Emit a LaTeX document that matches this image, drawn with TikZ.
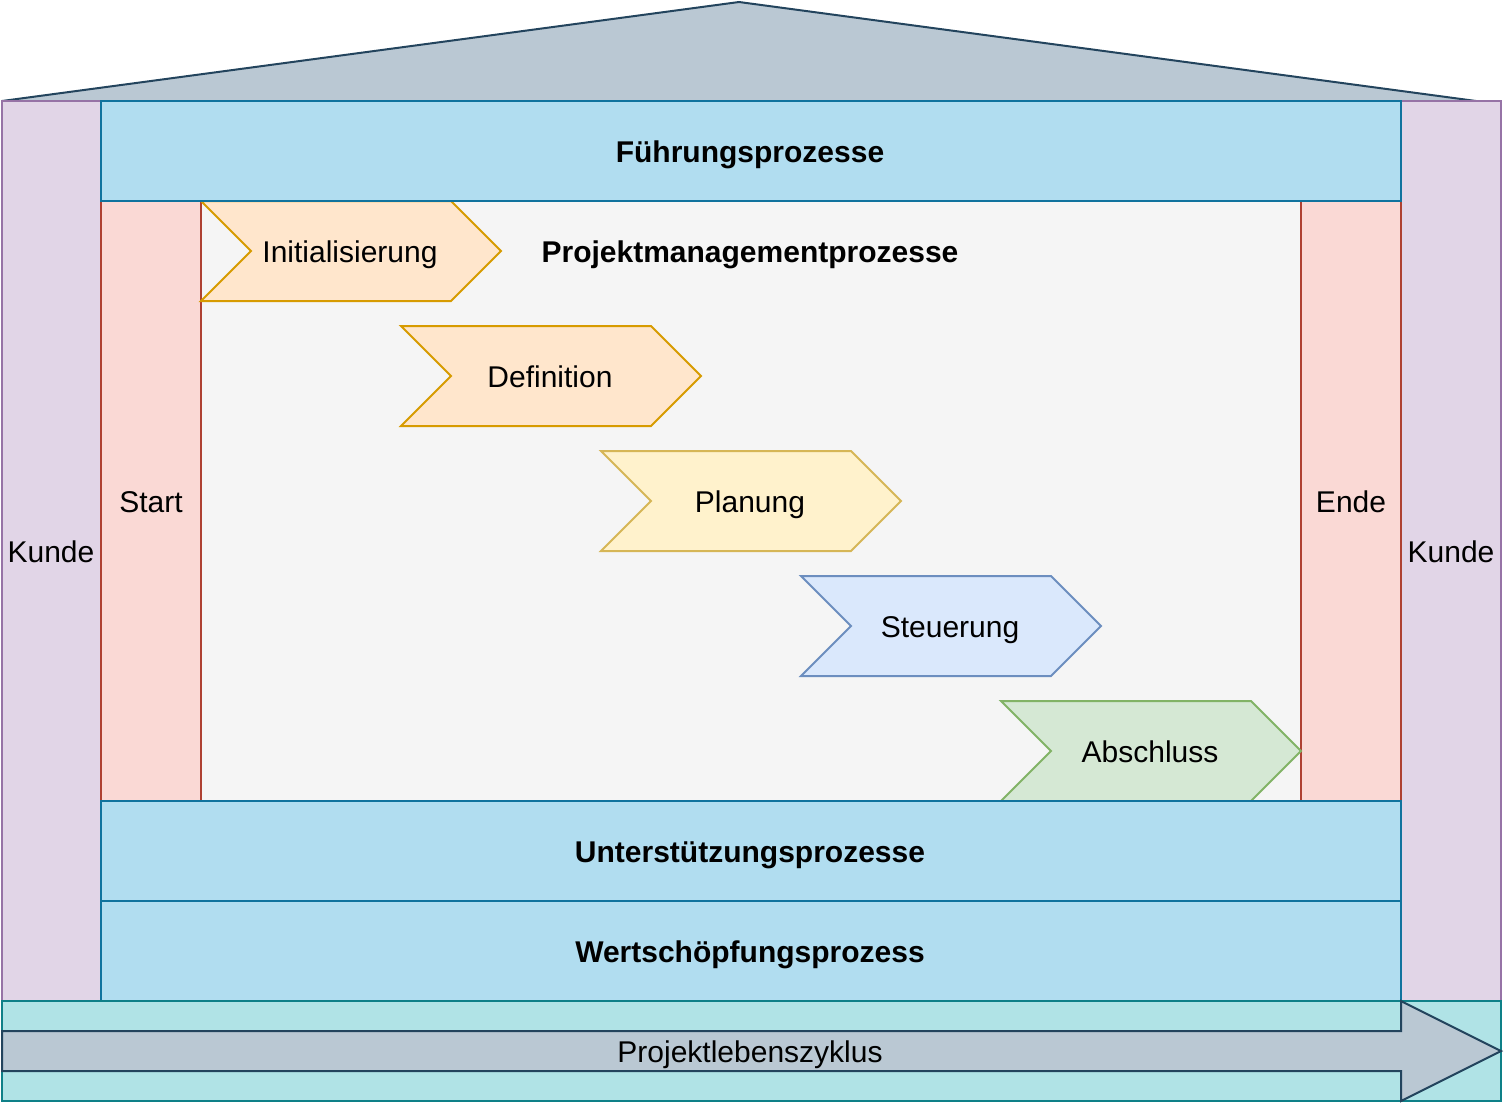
\documentclass[tikz,border=0pt]{standalone}
\usepackage{fontspec}
\setmainfont{Liberation Sans}
\definecolor{roofF}{HTML}{BAC8D3}
\definecolor{roofD}{HTML}{23445D}
\definecolor{kundeF}{HTML}{E1D5E7}
\definecolor{kundeD}{HTML}{9673A6}
\definecolor{blueF}{HTML}{B1DDF0}
\definecolor{blueD}{HTML}{10739E}
\definecolor{redF}{HTML}{FAD9D5}
\definecolor{redD}{HTML}{AE4132}
\definecolor{greyF}{HTML}{F5F5F5}
\definecolor{orF}{HTML}{FFE6CC}
\definecolor{orD}{HTML}{D79B00}
\definecolor{yeF}{HTML}{FFF2CC}
\definecolor{yeD}{HTML}{D6B656}
\definecolor{buF}{HTML}{DAE8FC}
\definecolor{buD}{HTML}{6C8EBF}
\definecolor{grF}{HTML}{D5E8D4}
\definecolor{grD}{HTML}{82B366}
\definecolor{tealF}{HTML}{B0E3E6}
\definecolor{tealD}{HTML}{0E8088}
\begin{document}
\begin{tikzpicture}[x=0.5pt,y=-0.5pt,line width=1pt,line join=miter,
  lbl/.style={inner sep=0pt,font=\fontsize{15}{18}\selectfont,text=black,text height=10.7pt,text depth=0pt},
  blbl/.style={lbl,font=\fontsize{15}{18}\selectfont\bfseries}]
\useasboundingbox (0,0) rectangle (1508,1110);
% roof
\draw[fill=roofF,draw=roofD] (2,101) -- (739,2) -- (1476,101) -- cycle;
% Kunde columns
\draw[fill=kundeF,draw=kundeD] (2,101) rectangle (101,1001);
\draw[fill=kundeF,draw=kundeD] (1401,101) rectangle (1501,1001);
\node[lbl] (kl) at (51,552) {Kunde};
\node[lbl] (kr) at (1451,552) {Kunde};
% centre area
\fill[greyF] (201,201) rectangle (1301,801);
% Start / Ende
\draw[fill=redF,draw=redD] (101,201) rectangle (201,801);
\draw[fill=redF,draw=redD] (1301,201) rectangle (1401,801);
\node[lbl] (start) at (151,502) {Start};
\node[lbl] (ende) at (1351,502) {Ende};
% chevrons
\draw[fill=orF,draw=orD] (201,201) -- (451,201) -- (501,251) -- (451,301) -- (201,301) -- (251,251) -- cycle;
\node[lbl] (c1) at (350,252) {Initialisierung};
\draw[fill=orF,draw=orD] (401,326) -- (651,326) -- (701,376) -- (651,426) -- (401,426) -- (451,376) -- cycle;
\node[lbl] (c2) at (550,377) {Definition};
\draw[fill=yeF,draw=yeD] (601,451) -- (851,451) -- (901,501) -- (851,551) -- (601,551) -- (651,501) -- cycle;
\node[lbl] (c3) at (750,502) {Planung};
\draw[fill=buF,draw=buD] (801,576) -- (1051,576) -- (1101,626) -- (1051,676) -- (801,676) -- (851,626) -- cycle;
\node[lbl] (c4) at (950,627) {Steuerung};
\draw[fill=grF,draw=grD] (1001,701) -- (1251,701) -- (1301,751) -- (1251,801) -- (1001,801) -- (1051,751) -- cycle;
\node[lbl] (c5) at (1150,752) {Abschluss};
\node[blbl] (pm) at (750,252) {Projektmanagementprozesse};
% blue bands
\draw[fill=blueF,draw=blueD] (101,101) rectangle (1401,201);
\node[blbl] (fp) at (750,152) {Führungsprozesse};
\draw[fill=blueF,draw=blueD] (101,801) rectangle (1401,901);
\node[blbl] (up) at (750,852) {Unterstützungsprozesse};
\draw[fill=blueF,draw=blueD] (101,901) rectangle (1401,1001);
\node[blbl] (wp) at (750,952) {Wertschöpfungsprozess};
% bottom band
\draw[fill=tealF,draw=tealD] (2,1001) rectangle (1501,1101);
\draw[fill=roofF,draw=roofD] (2,1031) -- (1401,1031) -- (1401,1001) -- (1501,1051) -- (1401,1101) -- (1401,1071) -- (2,1071) -- cycle;
\node[lbl] (pl) at (750,1052) {Projektlebenszyklus};
\end{tikzpicture}
\end{document}
